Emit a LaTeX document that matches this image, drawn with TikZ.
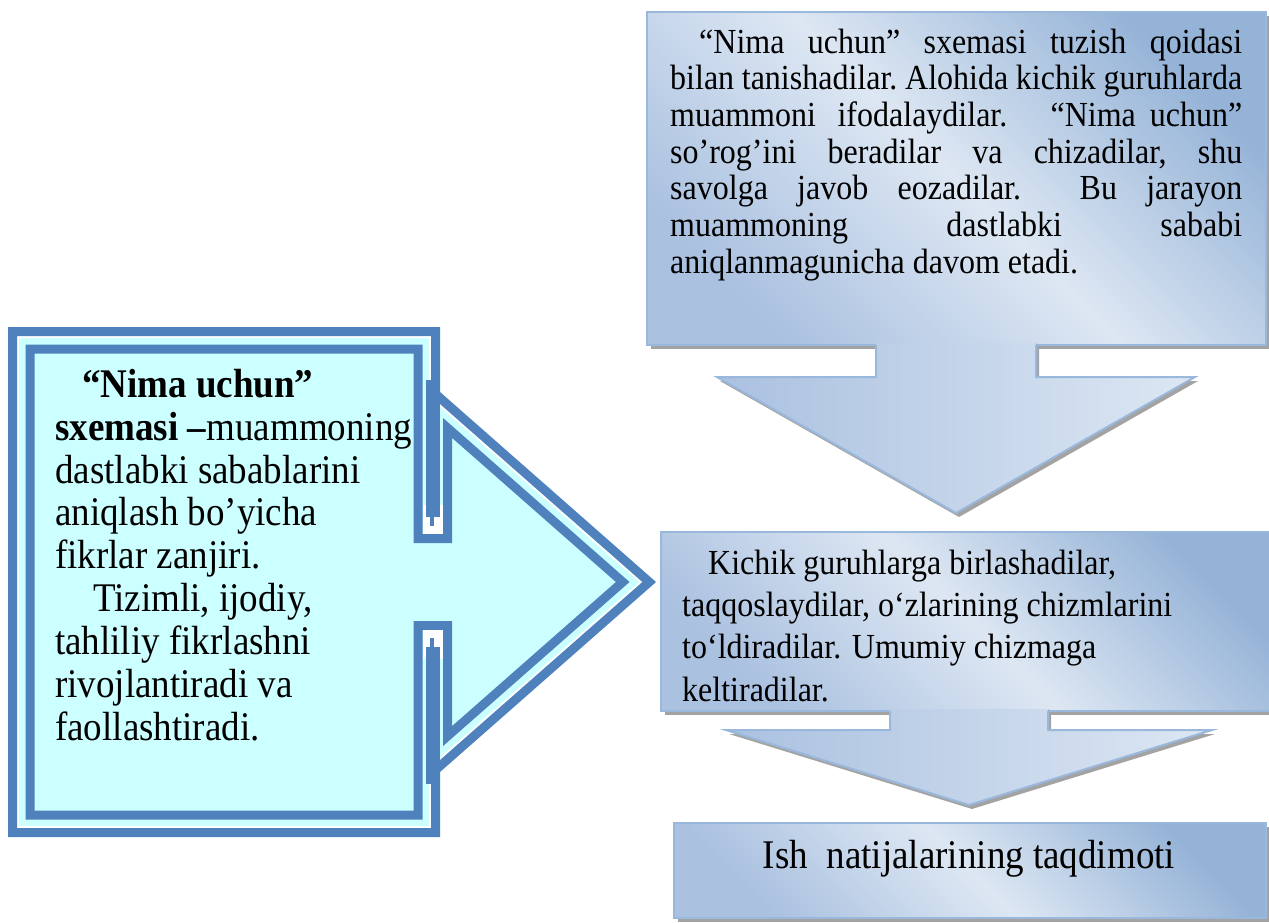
\documentclass[tikz,border=0pt]{standalone}
\usepackage{graphicx}
\usepackage{fontspec}
\setmainfont{Liberation Serif}
\newcommand{\tallt}[1]{\scalebox{1}[1.1]{#1}}
\definecolor{lblue}{HTML}{4F81BD}
\definecolor{lcyan}{HTML}{CCFFFF}
\definecolor{gdark}{HTML}{95B3D7}
\definecolor{gdarkb}{HTML}{AAC1E0}
\definecolor{glight}{HTML}{DDE7F3}
\definecolor{gborder}{HTML}{9AB7DC}
\definecolor{shadowc}{HTML}{A3A3A3}
\tikzset{
  gbox/.style={draw=gborder, line width=2pt, top color=gdark, bottom color=gdarkb, middle color=glight, shading angle=-45},
  garrow/.style={left color=gdarkb, right color=glight},
  gedge/.style={draw=gborder, line width=2pt},
  shad/.style={fill=shadowc},
  ltxt/.style={anchor=base west, inner sep=0pt, font=\fontsize{37}{43}\selectfont},
  rtxt/.style={anchor=base west, inner sep=0pt, font=\fontsize{32}{37}\selectfont},
}
\begin{document}
\begin{tikzpicture}[x=1pt,y=-1pt,line join=miter,miter limit=20]
\useasboundingbox (0,0) rectangle (1269,922);
\clip (0,0) rectangle (1269,922);

% ---------- left callout ----------
\begin{scope}
  \clip (8,327) -- (440,327) -- (440,392) -- (656,582) -- (440,772) -- (440,837) -- (8,837) -- cycle;
  \fill[lcyan] (0,300) rectangle (700,860);
  \draw[white, line width=22pt] (8,327) -- (440,327) -- (440,392) -- (656,582) -- (440,772) -- (440,837) -- (8,837) -- cycle;
  \draw[lblue, line width=18pt] (8,327) -- (440,327) -- (440,392) -- (656,582) -- (440,772) -- (440,837) -- (8,837) -- cycle;
\end{scope}
\draw[lblue, line width=9pt, fill=lcyan] (30,349) -- (418,349) -- (418,538.5) -- (447.5,538.5) -- (447.5,427.9) -- (622.7,582) -- (447.5,736.1) -- (447.5,625.5) -- (418,625.5) -- (418,815) -- (30,815) -- cycle;
\fill[white] (422.5,505) rectangle (443,534);
\fill[lblue] (426,380) rectangle (440,517);
\fill[lblue] (430,517) rectangle (434,526);
\fill[white] (422.5,630) rectangle (443,659);
\fill[lblue] (426,647) rectangle (440,784);
\fill[lblue] (430,638) rectangle (434,647);

\node[ltxt] (l1) at (82,397) {\tallt{\textbf{“Nima uchun”}}};
\node[ltxt] (l2) at (55,440) {\tallt{\textbf{sxemasi –}muammoning}};
\node[ltxt] (l3) at (55,483) {\tallt{dastlabki sabablarini}};
\node[ltxt] (l4) at (55,525) {\tallt{aniqlash bo’yicha}};
\node[ltxt] (l5) at (55,568) {\tallt{fikrlar zanjiri.}};
\node[ltxt] (l6) at (93,611) {\tallt{Tizimli, ijodiy,}};
\node[ltxt] (l7) at (55,654) {\tallt{tahliliy fikrlashni}};
\node[ltxt] (l8) at (55,697) {\tallt{rivojlantiradi va}};
\node[ltxt] (l9) at (55,740) {\tallt{faollashtiradi.}};

% ---------- top box ----------
\fill[shad] (651,16) rectangle (1271,349);
\path[gbox] (647,12) rectangle (1266,345);
\fill[shad] (879,349) -- (879,381) -- (720,381) -- (959,517) -- (1198,381) -- (1039,381) -- (1039,349) -- cycle;
\fill[garrow] (876,343) -- (876,377) -- (717,377) -- (956,513) -- (1195,377) -- (1036,377) -- (1036,343) -- cycle;
\draw[gedge] (876,345) -- (876,377) -- (717,377) -- (956,513) -- (1195,377) -- (1036,377) -- (1036,345);

\node[rtxt] (t1) at (670,53) {\tallt{\hbox to 572pt{\hspace*{29pt}“Nima\hfill uchun”\hfill sxemasi\hfill tuzish\hfill qoidasi}}};
\node[rtxt] (t2) at (670,89.7) {\tallt{\hbox to 572pt{bilan\hfill tanishadilar.\hfill Alohida\hfill kichik\hfill guruhlarda}}};
\node[rtxt] (t3) at (670,126.4) {\tallt{\hbox to 572pt{muammoni\hfill ifodalaydilar.\hfill\hfill “Nima\hspace{14pt}uchun”}}};
\node[rtxt] (t4) at (670,163.1) {\tallt{\hbox to 572pt{so’rog’ini\hfill beradilar\hfill va\hfill chizadilar,\hfill shu}}};
\node[rtxt] (t5) at (670,199.8) {\tallt{\hbox to 572pt{savolga\hfill javob\hfill eozadilar.\hfill\hfill Bu\hfill jarayon}}};
\node[rtxt] (t6) at (670,236.5) {\tallt{\hbox to 572pt{muammoning\hfill dastlabki\hfill sababi}}};
\node[rtxt] (t7) at (670,273.2) {\tallt{aniqlanmagunicha davom etadi.}};

% ---------- middle box ----------
\fill[shad] (665,536) rectangle (1285,715);
\path[gbox] (661,532) rectangle (1281,711);
\fill[shad] (893,715) -- (893,734) -- (729,734) -- (972,809) -- (1215,734) -- (1051,734) -- (1051,715) -- cycle;
\fill[garrow] (890,709) -- (890,730) -- (726,730) -- (969,805) -- (1212,730) -- (1048,730) -- (1048,709) -- cycle;
\draw[gedge] (890,711) -- (890,730) -- (726,730) -- (969,805) -- (1212,730) -- (1048,730) -- (1048,711);

\node[rtxt] (m1) at (708,574) {\tallt{Kichik guruhlarga birlashadilar,}};
\node[rtxt] (m2) at (682,616.3) {\tallt{taqqoslaydilar, o‘zlarining chizmlarini}};
\node[rtxt] (m3) at (682,658.6) {\tallt{to‘ldiradilar. Umumiy chizmaga}};
\node[rtxt] (m4) at (682,701) {\tallt{keltiradilar.}};

% ---------- bottom box ----------
\fill[shad] (678,827) rectangle (1270,922);
\path[gbox] (674,823) rectangle (1266,918);
\node[anchor=base, inner sep=0pt, font=\fontsize{37}{43}\selectfont] (b1) at (969,868) {\tallt{Ish\ \ natijalarining taqdimoti}};
\end{tikzpicture}
\end{document}
